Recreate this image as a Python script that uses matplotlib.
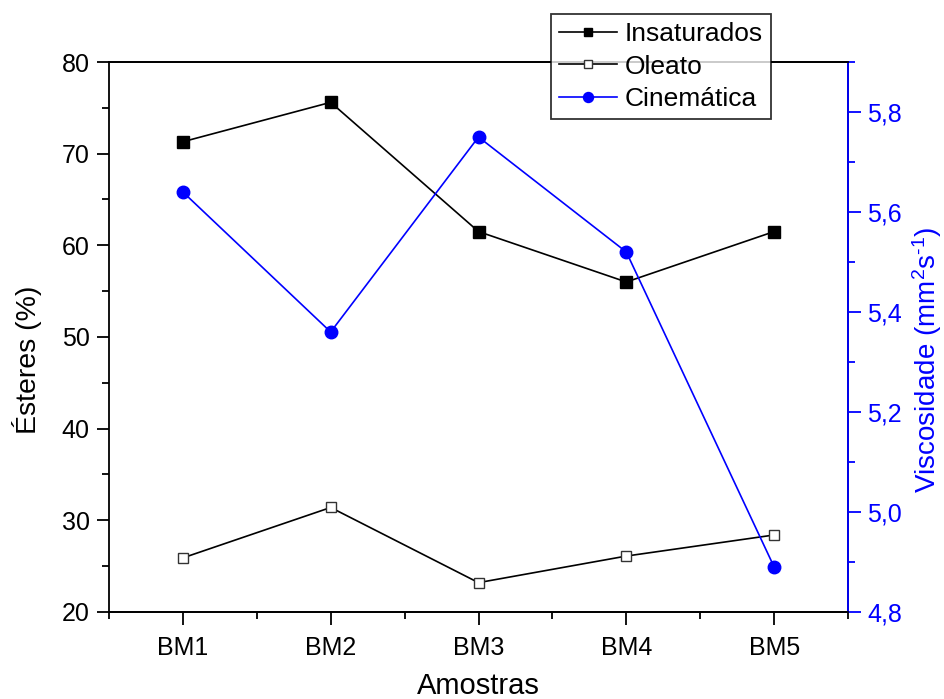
import matplotlib
matplotlib.use("Agg")
import matplotlib.pyplot as plt
from matplotlib.ticker import MultipleLocator, FuncFormatter

plt.rcParams['font.family'] = ['Liberation Sans', 'DejaVu Sans']
plt.rcParams['mathtext.fontset'] = 'custom'
plt.rcParams['mathtext.rm'] = 'Liberation Sans'
plt.rcParams['mathtext.it'] = 'Liberation Sans'
plt.rcParams['axes.unicode_minus'] = False

categories = ["BM1", "BM2", "BM3", "BM4", "BM5"]
insaturados = [71.3, 75.6, 61.5, 56.0, 61.5]
oleato = [25.9, 31.4, 23.2, 26.1, 28.4]
cinematica = [5.64, 5.36, 5.75, 5.52, 4.89]

x = list(range(1, len(categories) + 1))

fig = plt.figure(figsize=(9.45, 6.99), dpi=100)
ax = fig.add_axes([0.1153, 0.1245, 0.7821, 0.7868])
ax2 = ax.twinx()

blue = '#0000ff'
l1, = ax.plot(x, insaturados, '-', color='black', lw=1.2, marker='s', ms=8,
              mfc='black', mec='black', label='Insaturados')
l2, = ax.plot(x, oleato, '-', color='black', lw=1.2, marker='s', ms=7.5,
              mfc='white', mec='#333333', mew=1.0, label='Oleato')
l3, = ax2.plot(x, cinematica, '-', color=blue, lw=1.2, marker='o', ms=9,
               mfc=blue, mec=blue, label='Cinemática')

ax.set_xlim(0.5, 5.5)
ax.set_ylim(20, 80)
ax2.set_ylim(4.8, 5.9)

ax.set_xticks(x)
ax.set_xticklabels(categories)
ax.xaxis.set_minor_locator(MultipleLocator(0.5))
ax.yaxis.set_major_locator(MultipleLocator(10))
ax.yaxis.set_minor_locator(MultipleLocator(5))
ax2.yaxis.set_major_locator(MultipleLocator(0.2))
ax2.yaxis.set_minor_locator(MultipleLocator(0.1))
ax2.yaxis.set_major_formatter(FuncFormatter(lambda v, p: f"{v:.1f}".replace('.', ',')))

for a in (ax, ax2):
    for s in a.spines.values():
        s.set_linewidth(1.3)

ax.tick_params(which='major', direction='out', length=9, width=1.3, labelsize=18, top=False, right=False)
ax.tick_params(which='minor', direction='out', length=5, width=1.3, top=False, right=False)
ax.tick_params(axis='x', pad=8)
ax.tick_params(axis='y', pad=5)
ax2.tick_params(which='major', direction='out', length=9, width=1.3, labelsize=18,
                colors=blue, pad=5)
ax2.tick_params(which='minor', direction='out', length=5, width=1.3, colors=blue)
ax2.spines['right'].set_color(blue)
ax2.spines['left'].set_visible(False)

ax.set_xlabel('Amostras', fontsize=21, labelpad=9)
ax.set_ylabel('Ésteres (%)', fontsize=20.5)
ax2.set_ylabel(r'Viscosidade (mm$^{2}$s$^{\text{-1}}$)', fontsize=20, color=blue)
ax.yaxis.set_label_coords(-0.09, 0.458)
ax2.yaxis.set_label_coords(1.084, 0.458)

leg = fig.legend(handles=[l1, l2, l3], loc='upper left', bbox_to_anchor=(551/945, 1 - 14/699),
                 fontsize=19, frameon=True, fancybox=False, edgecolor='black',
                 handlelength=2.2, handletextpad=0.3, borderpad=0.3, labelspacing=0.33,
                 borderaxespad=0, markerscale=0.8)
leg.get_frame().set_linewidth(1.3)
leg.set_zorder(10)

fig.savefig('out.png', dpi=100)
